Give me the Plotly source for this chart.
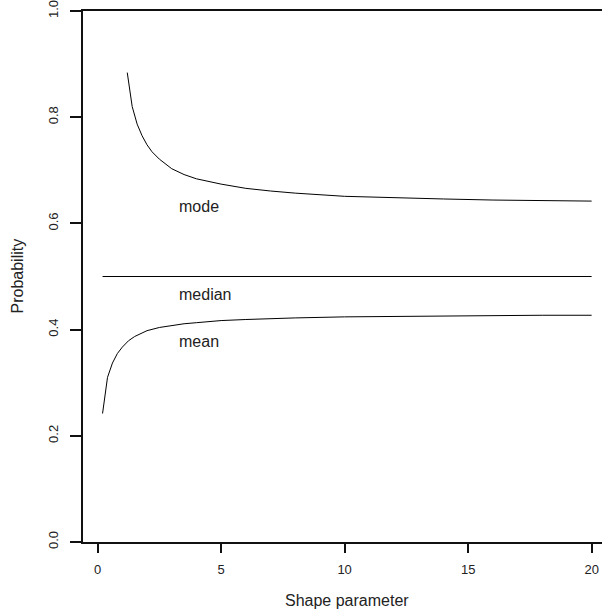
import plotly.graph_objects as go

# Data
shape_mean = [0.2, 0.4, 0.6, 0.8, 1.0, 1.25, 1.5, 1.75, 2.0, 2.5, 3.0, 3.5, 4.0, 5.0,
              6.0, 7.0, 8.0, 10.0, 12.0, 14.0, 16.0, 18.0, 20.0]
prob_mean = [0.242, 0.310, 0.337, 0.355, 0.367, 0.379, 0.387, 0.393, 0.398, 0.404, 0.408,
             0.411, 0.413, 0.417, 0.419, 0.421, 0.422, 0.424, 0.425, 0.426, 0.4265, 0.427, 0.427]

shape_mode = [1.2, 1.4, 1.6, 1.8, 2.0, 2.2, 2.5, 3.0, 3.5, 4.0, 5.0, 6.0, 7.0, 8.0,
              10.0, 12.0, 14.0, 16.0, 18.0, 20.0]
prob_mode = [0.884, 0.820, 0.787, 0.765, 0.748, 0.735, 0.721, 0.703, 0.692, 0.684, 0.674,
             0.666, 0.661, 0.657, 0.651, 0.648, 0.646, 0.644, 0.643, 0.642]

shape_median = [0.2, 20.0]
prob_median = [0.5, 0.5]

label_names = ["mode", "median", "mean"]
label_x = [3.22, 3.22, 3.22]
label_y = [0.632, 0.467, 0.378]

x_ticks = [0, 5, 10, 15, 20]
y_ticks = [0.0, 0.2, 0.4, 0.6, 0.8, 1.0]
y_tick_text = ["0.0", "0.2", "0.4", "0.6", "0.8", "1.0"]

FONT = "Liberation Sans, Arial, Helvetica, sans-serif"

fig = go.Figure()
for xs, ys in [(shape_mode, prob_mode), (shape_median, prob_median), (shape_mean, prob_mean)]:
    fig.add_trace(go.Scatter(x=xs, y=ys, mode="lines",
                             line=dict(color="black", width=1), showlegend=False,
                             hoverinfo="skip"))

for name, lx, ly in zip(label_names, label_x, label_y):
    fig.add_annotation(x=lx, y=ly, text=name, showarrow=False, xanchor="left",
                       yanchor="middle", font=dict(family=FONT, size=16, color="#222"))

fig.add_annotation(xref="paper", yref="paper", x=(347 - 83) / 519, y=(542 - 601) / 533,
                   text="Shape parameter", showarrow=False, xanchor="center",
                   yanchor="middle", font=dict(family=FONT, size=16, color="#222"))
fig.add_annotation(xref="paper", yref="paper", x=(17 - 83) / 519, y=0.5,
                   text="Probability", showarrow=False, xanchor="center",
                   yanchor="middle", textangle=-90,
                   font=dict(family=FONT, size=16, color="#222"))

fig.update_layout(
    width=602, height=612,
    margin=dict(l=83, r=0, t=9, b=70),
    plot_bgcolor="white", paper_bgcolor="white",
    font=dict(family=FONT, size=13, color="#222"),
    xaxis=dict(range=[-0.592, 20.42], tickvals=x_ticks, ticks="outside", ticklen=9,
               tickwidth=2, tickcolor="#111", showline=True, linecolor="#111",
               linewidth=2, mirror=True, showgrid=False, zeroline=False,
               ticklabelstandoff=5, ticklabeloverflow="allow", tickfont=dict(size=13)),
    yaxis=dict(range=[0, 1], tickvals=y_ticks, ticktext=y_tick_text, ticks="outside",
               ticklen=11, tickwidth=2, tickcolor="#111", showline=True,
               linecolor="#111", linewidth=2, showgrid=False, zeroline=False,
               tickangle=-90, ticklabelstandoff=7, ticklabeloverflow="allow",
               tickfont=dict(size=13)),
)

fig.write_html("out.html", config={"displayModeBar": False},
               post_script="document.body.style.margin='0';document.body.style.overflow='hidden';")
